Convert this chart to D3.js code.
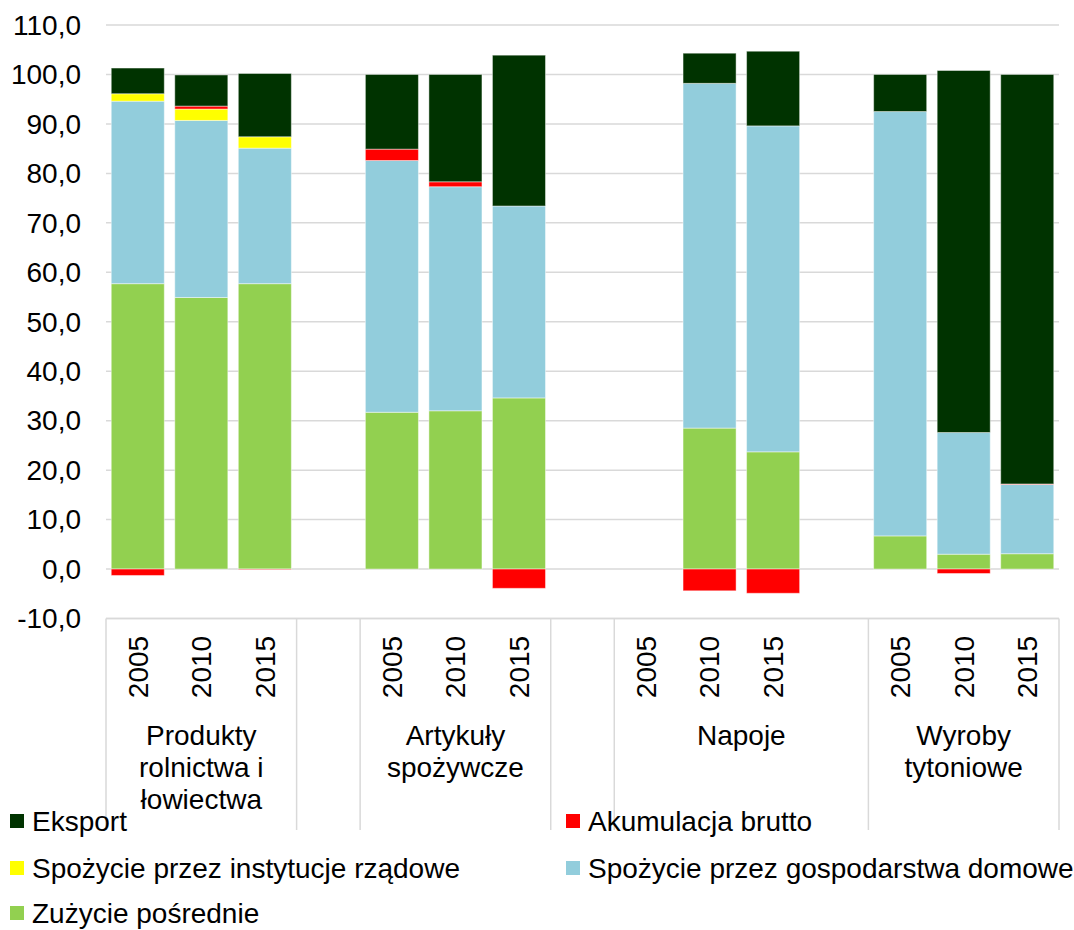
<!DOCTYPE html>
<html>
<head>
<meta charset="utf-8">
<script src="https://cdn.jsdelivr.net/npm/d3@7"></script>
<style>
  body { margin: 0; background: #fff; }
  svg text { font-family: "Liberation Sans", Arial, sans-serif; fill: #000; }
</style>
</head>
<body>
<svg id="svg" width="1074" height="930"></svg>
<script>
// categories: 15 slots, blank slots separate the groups
var years = ["2005","2010","2015","", "2005","2010","2015","", "2005","2010","2015","", "2005","2010","2015"];
var groupOf = [0,0,0, 1, 2,2,2, 3, 4,4,4,4, 5,5,5];
var groupLabels = [["Produkty","rolnictwa i","łowiectwa"], [], ["Artykuły","spożywcze"], [], ["Napoje"], ["Wyroby","tytoniowe"]];

// series values (percent)
var zuzycie      = [57.7, 54.9, 57.7, null, 31.7, 32.0, 34.6, null, null, 28.5, 23.7, null, 6.7, 3.0, 3.1];
var gospodarstwa = [36.9, 35.8, 27.4, null, 50.9, 45.3, 38.8, null, null, 69.7, 65.9, null, 85.8, 24.6, 14.0];
var instytucje   = [1.5, 2.3, 2.3, null, 0, 0, 0, null, null, 0, 0, null, 0, 0, 0];
var akumulacja   = [-1.3, 0.6, -0.1, null, 2.3, 1.0, -3.9, null, null, -4.4, -4.9, null, 0, -0.9, 0.1];
var eksport      = [5.2, 6.3, 12.8, null, 15.1, 21.7, 30.5, null, null, 6.1, 15.1, null, 7.5, 73.2, 82.8];

var yTicks = [-10, 0, 10, 20, 30, 40, 50, 60, 70, 80, 90, 100, 110];

var seriesKeys = ["zuzycie", "gospodarstwa", "instytucje", "akumulacja", "eksport"];
var seriesNames = {
	eksport: "Eksport",
	akumulacja: "Akumulacja brutto",
	instytucje: "Spożycie przez instytucje rządowe",
	gospodarstwa: "Spożycie przez gospodarstwa domowe",
	zuzycie: "Zużycie pośrednie"
};
var colors = {
	eksport: "#003300",
	akumulacja: "#ff0000",
	instytucje: "#ffff00",
	gospodarstwa: "#92cddc",
	zuzycie: "#92d050"
};
var legendOrder = ["eksport", "akumulacja", "instytucje", "gospodarstwa", "zuzycie"];

var svg = d3.select("#svg");

var plot = { left: 106, right: 1059, top: 25, bottom: 618.5 };
var fontSize = '28px';

// table for d3.stack
var table = years.map(function(y, i) {
	return {
		i: i,
		zuzycie: zuzycie[i] || 0,
		gospodarstwa: gospodarstwa[i] || 0,
		instytucje: instytucje[i] || 0,
		akumulacja: akumulacja[i] || 0,
		eksport: eksport[i] || 0
	};
});

var x = d3.scaleBand()
	.domain(d3.range(years.length))
	.range([plot.left, plot.right])
	.paddingInner(0.165)
	.paddingOuter(0.0825);
var step = x.step();

var y = d3.scaleLinear().domain([-10, 110]).range([plot.bottom, plot.top]);

// gridlines
svg.append('g').selectAll('line')
	.data(yTicks)
	.enter().append('line')
	.attr('x1', plot.left)
	.attr('x2', plot.right)
	.attr('y1', d => y(d))
	.attr('y2', d => y(d))
	.style('stroke', '#d9d9d9')
	.style('stroke-width', 1.5);

// y axis labels
svg.append('g').selectAll('text')
	.data(yTicks)
	.enter().append('text')
	.attr('x', 81)
	.attr('y', d => y(d))
	.attr('dy', '0.35em')
	.attr('text-anchor', 'end')
	.style('font-size', fontSize)
	.text(d => d.toFixed(1).replace(".", ","));

// stacked bars
var stack = d3.stack().keys(seriesKeys).offset(d3.stackOffsetDiverging);
var stacked = stack(table);

var barG = svg.append('g');
stacked.forEach(function(layer) {
	barG.append('g').selectAll('rect')
		.data(layer.filter(d => zuzycie[d.data.i] !== null && d[1] !== d[0]))
		.enter().append('rect')
		.attr('x', d => x(d.data.i))
		.attr('width', x.bandwidth())
		.attr('y', d => y(Math.max(d[0], d[1])))
		.attr('height', d => Math.abs(y(d[0]) - y(d[1])))
		.style('fill', colors[layer.key])
		.style('stroke', 'rgba(255,255,255,0.45)')
		.style('stroke-width', 1);
});

// category axis: years (rotated)
svg.append('g').selectAll('text')
	.data(years.map((d, i) => ({ label: d, i: i })).filter(d => d.label !== ""))
	.enter().append('text')
	.attr('transform', d => 'translate(' + (x(d.i) + x.bandwidth() / 2) + ',667) rotate(-90)')
	.attr('text-anchor', 'middle')
	.attr('dy', '0.35em')
	.style('font-size', fontSize)
	.text(d => d.label);

// group extents
var groups = groupLabels.map(function(lines, g) {
	var idx = d3.range(years.length).filter(i => groupOf[i] === g);
	return {
		lines: lines,
		x0: x(idx[0]) - step * 0.0825,
		x1: x(idx[idx.length - 1]) - step * 0.0825 + step
	};
});

// separators
var sepX = [plot.left].concat(groups.map(g => g.x1));
svg.append('line')
	.attr('x1', plot.left).attr('x2', plot.right)
	.attr('y1', y(-10)).attr('y2', y(-10))
	.style('stroke', '#d9d9d9').style('stroke-width', 1.5);
svg.append('g').selectAll('line')
	.data(sepX)
	.enter().append('line')
	.attr('x1', d => d).attr('x2', d => d)
	.attr('y1', y(-10)).attr('y2', 830)
	.style('stroke', '#d9d9d9')
	.style('stroke-width', 1.5);

// group labels
groups.forEach(function(g) {
	g.lines.forEach(function(line, k) {
		svg.append('text')
			.attr('x', (g.x0 + g.x1) / 2)
			.attr('y', 735 + k * 32)
			.attr('dy', '0.35em')
			.attr('text-anchor', 'middle')
			.style('font-size', fontSize)
			.text(line);
	});
});

// legend
var legendPos = [[10, 821], [566, 821], [10, 868], [566, 868], [10, 913]];
var legend = svg.append('g');
legendOrder.forEach(function(key, i) {
	var p = legendPos[i];
	legend.append('rect')
		.attr('x', p[0]).attr('y', p[1] - 7)
		.attr('width', 14).attr('height', 14)
		.style('fill', colors[key]);
	legend.append('text')
		.attr('x', p[0] + 22)
		.attr('y', p[1])
		.attr('dy', '0.35em')
		.style('font-size', fontSize)
		.text(seriesNames[key]);
});
</script>
</body>
</html>
